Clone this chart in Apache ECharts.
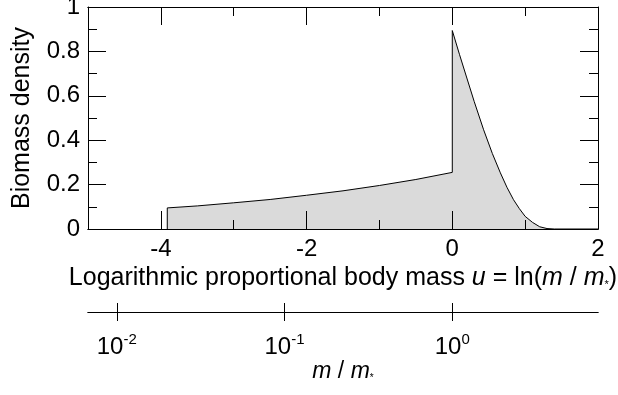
<!DOCTYPE html>
<html>
<head>
<meta charset="utf-8">
<script src="https://cdn.jsdelivr.net/npm/echarts@6/dist/echarts.min.js"></script>
<style>
html,body{margin:0;padding:0;background:#fff;}
#chart{width:618px;height:395px;}
</style>
</head>
<body>
<div id="chart"></div>
<script>
// left branch: u = ln(m/m*) from m/m* = 0.02 up to 1
var uLeft = [-3.912, -3.5, -3, -2.5, -2, -1.5, -1, -0.5, 0];
var densLeft = [0.095, 0.104, 0.118, 0.133, 0.152, 0.172, 0.196, 0.223, 0.255];
// right branch after the jump at u = 0
var uRight = [0, 0.1, 0.2, 0.3, 0.43, 0.55, 0.66, 0.75, 0.84, 0.92, 1.0, 1.1, 1.2, 1.3, 1.4, 2];
var densRight = [0.894, 0.785, 0.68, 0.575, 0.447, 0.34, 0.253, 0.188, 0.132, 0.092, 0.057, 0.03, 0.01, 0.002, 0, 0];
// tick values
var xMajor = [-4, -2, 0, 2];
var yMajorStep = 0.2;
var massTicks = [0.01, 0.1, 1];

var font = "'Liberation Sans', Arial, sans-serif";
var black = '#000';

var curve = [[uLeft[0], 0]];
uLeft.forEach(function (u, i) { curve.push([u, densLeft[i]]); });
uRight.forEach(function (u, i) { curve.push([u, densRight[i]]); });

var massLog = massTicks.map(function (m) { return Math.log(m); });

// rich styles: every piece aligned to the bottom of the line so sub/sup can be shifted
function richSet(size) {
    return {
        r: { fontSize: size, fontFamily: font, color: black, verticalAlign: 'bottom' },
        i: { fontSize: size, fontFamily: font, fontStyle: 'italic', color: black, verticalAlign: 'bottom' },
        sub: { fontSize: Math.round(size * 0.45), fontFamily: font, color: black, verticalAlign: 'bottom' }
    };
}

// frame axes sit above the grey area (z 3)
function frameX(pos, ticks, len) {
    var ax = {
        type: 'value', gridIndex: 0, position: pos, min: -5, max: 2, z: 3,
        axisLine: { show: true, onZero: false, lineStyle: { color: black, width: 1 } },
        axisTick: { show: true, inside: true, length: len, lineStyle: { color: black, width: 1 } },
        axisLabel: { show: false },
        splitLine: { show: false }
    };
    if (ticks) {
        ax.axisTick.customValues = ticks;
    } else {
        ax.interval = 1;
    }
    return ax;
}

var xAxisBottom = frameX('bottom', null, 9);
xAxisBottom.axisLabel = {
    show: true, margin: 8, fontSize: 24, fontFamily: font, color: black,
    showMaxLabel: true, showMinLabel: true,
    formatter: function (v) { return xMajor.indexOf(v) >= 0 ? String(v) : ''; }
};
xAxisBottom.name = '{r|Logarithmic proportional body mass }{i|u}{r| = ln(}{i|m}{r| / }{i|m}{sub|*}{r|)}';
xAxisBottom.nameLocation = 'middle';
xAxisBottom.nameGap = 33;
xAxisBottom.nameTextStyle = { fontSize: 25, fontFamily: font, color: black, rich: richSet(25) };

function frameY(pos, showLabel) {
    return {
        type: 'value', gridIndex: 0, position: pos, min: 0, max: 1, interval: yMajorStep, z: 3,
        axisLine: { show: true, onZero: false, lineStyle: { color: black, width: 1 } },
        axisTick: { show: true, inside: true, length: 18, lineStyle: { color: black, width: 1 } },
        minorTick: { show: true, splitNumber: 2, length: 9, lineStyle: { color: black, width: 1 } },
        axisLabel: { show: showLabel, margin: 8, fontSize: 24, fontFamily: font, color: black },
        splitLine: { show: false }
    };
}
var yAxisLeft = frameY('left', true);
yAxisLeft.name = 'Biomass density';
yAxisLeft.nameLocation = 'middle';
yAxisLeft.nameGap = 53;
yAxisLeft.nameTextStyle = { fontSize: 25, fontFamily: font, color: black };

// second scale m/m* under the chart
function massAxis(inside, withLabel) {
    var ax = {
        type: 'value', gridIndex: 1, position: 'bottom', min: -5, max: 2,
        axisLine: { show: true, onZero: false, lineStyle: { color: black, width: 1 } },
        axisTick: { show: true, inside: inside, length: 9, customValues: massLog, lineStyle: { color: black, width: 1 } },
        axisLabel: { show: false },
        splitLine: { show: false }
    };
    if (withLabel) {
        ax.axisLabel = {
            show: true, margin: 20, customValues: massLog, color: black,
            formatter: function (v) { return '{b|10}{s|' + Math.round(v / Math.LN10) + '}'; },
            rich: {
                b: { fontSize: 24, fontFamily: font, color: black, verticalAlign: 'bottom', padding: [3, 0, 0, 0] },
                s: { fontSize: 15, fontFamily: font, color: black, verticalAlign: 'top' }
            }
        };
        ax.name = '{i|m}{r| / }{i|m}{sub|*}';
        ax.nameLocation = 'middle';
        ax.nameGap = 25;
        ax.nameTextStyle = { fontSize: 23, fontFamily: font, color: black, rich: richSet(23) };
    }
    return ax;
}

var myChart = echarts.init(document.getElementById('chart'));
var option = {
    animation: false,
    backgroundColor: '#fff',
    grid: [
        { left: 88, right: 20, top: 7, height: 222, outerBoundsMode: 'none' },
        { left: 88, right: 20, top: 311, height: 1, outerBoundsMode: 'none' }
    ],
    xAxis: [
        xAxisBottom,
        frameX('bottom', xMajor, 18),
        frameX('top', null, 9),
        frameX('top', xMajor, 18),
        massAxis(false, true),
        massAxis(true, false)
    ],
    yAxis: [
        yAxisLeft,
        frameY('right', false),
        { type: 'value', gridIndex: 1, min: 0, max: 1, show: false }
    ],
    series: [{
        type: 'line',
        xAxisIndex: 0,
        yAxisIndex: 0,
        z: 1,
        data: curve,
        symbol: 'none',
        lineStyle: { color: black, width: 1 },
        areaStyle: { color: '#dadada', opacity: 1 }
    }]
};
myChart.setOption(option);
</script>
</body>
</html>
